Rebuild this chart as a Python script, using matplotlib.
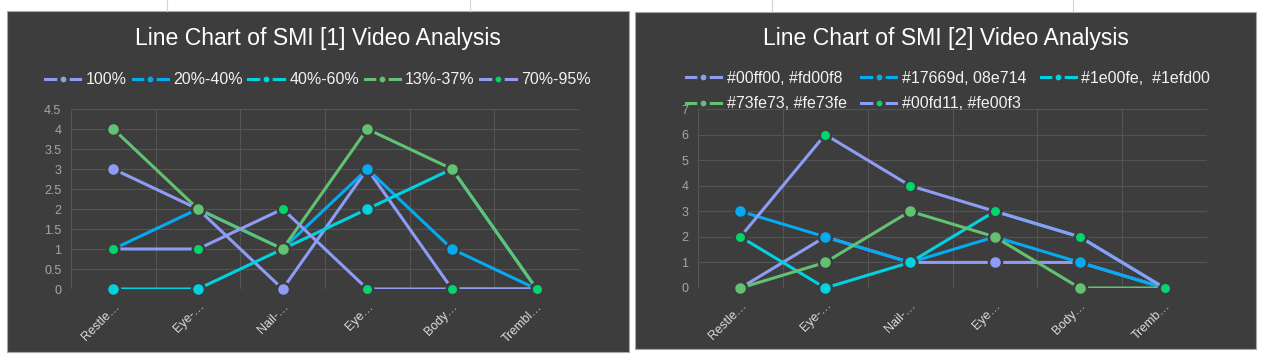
import numpy as np
import matplotlib.pyplot as plt
from matplotlib.lines import Line2D
from matplotlib.patches import Rectangle

plt.rcParams['font.family'] = ['Liberation Sans', 'DejaVu Sans']

W, H = 1268, 364
BG = '#3d3d3d'
GRID = '#545454'

# chart 1 data
cats1 = ['Restle…', 'Eye-…', 'Nail-…', 'Eye…', 'Body…', 'Trembl…']
names1 = ['100%', '20%-40%', '40%-60%', '13%-37%', '70%-95%']
s1_a = [3, 2, 0, 3, 0, 0]
s1_b = [1, 2, 1, 3, 1, 0]
s1_c = [0, 0, 1, 2, 3, 0]
s1_d = [4, 2, 1, 4, 3, 0]
s1_e = [1, 1, 2, 0, 0, 0]
yticks1 = [0, 0.5, 1, 1.5, 2, 2.5, 3, 3.5, 4, 4.5]
ylabels1 = ['0', '0.5', '1', '1.5', '2', '2.5', '3', '3.5', '4', '4.5']

# chart 2 data
cats2 = ['Restle…', 'Eye-…', 'Nail-…', 'Eye…', 'Body…', 'Tremb…']
names2 = ['#00ff00, #fd00f8', '#17669d, 08e714', '#1e00fe,  #1efd00',
          '#73fe73, #fe73fe', '#00fd11, #fe00f3']
s2_a = [0, 2, 1, 1, 1, 0]
s2_b = [3, 2, 1, 2, 1, 0]
s2_c = [2, 0, 1, 3, 2, 0]
s2_d = [0, 1, 3, 2, 0, 0]
s2_e = [2, 6, 4, 3, 2, 0]
yticks2 = [0, 1, 2, 3, 4, 5, 6, 7]
ylabels2 = ['0', '1', '2', '3', '4', '5', '6', '7']

line_colors = ['#8e9cf5', '#05aaf0', '#00d3df', '#62c271', '#8e9cf5']
marker_colors = ['#8e9cf5', '#05aaf0', '#00d3df', '#62c271', '#00d66c']
marker_sizes = [9.4, 9.4, 9.4, 9.4, 8.3]


def fx(px):
    return px / W


def fy(py):
    return 1 - py / H


fig = plt.figure(figsize=(W / 100, H / 100), dpi=100, facecolor='white')

# spreadsheet cell lines peeking above the charts
for xl in [167, 470, 772, 1073]:
    fig.add_artist(Line2D([fx(xl), fx(xl)], [1, fy(11)], color='#d4d4d4', lw=0.8))


def draw_chart(box, plot, title, title_x, cats, series, yticks, ylabels, ymax):
    x0, y0, x1, y1 = box
    fig.add_artist(Rectangle((fx(x0), fy(y1)), fx(x1 - x0), (y1 - y0) / H,
                             facecolor=BG, edgecolor='#a8a8a8', lw=0.8, zorder=-1))
    px0, py0, px1, py1 = plot
    ax = fig.add_axes([fx(px0), fy(py1), fx(px1 - px0), (py1 - py0) / H])
    ax.set_facecolor(BG)
    x = np.arange(len(cats))
    for vals, lc, mc, ms in zip(series, line_colors, marker_colors, marker_sizes):
        ax.plot(x, vals, color=lc, lw=2.2, solid_capstyle='round')
        ax.plot(x, vals, 'o', ms=ms, mfc=mc, mec=BG, mew=1.8, clip_on=False)
    ax.set_xlim(-0.5, len(cats) - 0.5)
    ax.set_ylim(0, ymax)
    ax.set_xticks(x, cats)
    ax.set_xticks(np.arange(-0.5, len(cats)), minor=True)
    ax.set_yticks(yticks, ylabels)
    ax.set_axisbelow(True)
    ax.grid(which='minor', axis='x', color=GRID, lw=0.8)
    ax.grid(which='major', axis='y', color=GRID, lw=0.8)
    ax.tick_params(which='both', length=0)
    ax.tick_params(axis='y', pad=7, labelsize=9, labelcolor='#a6a6a6')
    ax.tick_params(axis='x', pad=8, labelsize=9, labelcolor='#dcdcdc')
    for lab in ax.get_xticklabels():
        lab.set_rotation(45)
        lab.set_ha('right')
        lab.set_rotation_mode('anchor')
    for sp in ax.spines.values():
        sp.set_visible(False)
    fig.text(fx(title_x), fy(38), title, ha='center', va='center',
             fontsize=16.6, color='white')
    return ax


def handles():
    return [Line2D([], [], color=lc, lw=2.2, marker='o', ms=6.6, mfc=mc, mec=BG, mew=2.4)
            for lc, mc in zip(line_colors, marker_colors)]


draw_chart((7, 11, 629, 352), (71, 109, 579, 289),
           'Line Chart of SMI [1] Video Analysis', 318, cats1,
           [s1_a, s1_b, s1_c, s1_d, s1_e], yticks1, ylabels1, 4.5)

draw_chart((635, 12, 1256, 349), (698, 109, 1207, 288),
           'Line Chart of SMI [2] Video Analysis', 946, cats2,
           [s2_a, s2_b, s2_c, s2_d, s2_e], yticks2, ylabels2, 7)

leg_kw = dict(loc='center', frameon=False, fontsize=11.5, labelcolor='#f2f2f2',
              handlelength=2.2, handletextpad=0.35, borderpad=0, borderaxespad=0)

fig.legend(handles(), names1, bbox_to_anchor=(fx(318), fy(80)), ncol=5,
           columnspacing=0.35, **leg_kw)

# legend fills column by column, so reorder to read row by row
order = [0, 3, 1, 4, 2]
h2 = handles()
fig.legend([h2[i] for i in order], [names2[i] for i in order],
           bbox_to_anchor=(fx(948), fy(91)), ncol=3, columnspacing=0.9,
           labelspacing=0.65, **leg_kw)

fig.savefig('out.png', dpi=100, facecolor='white')
